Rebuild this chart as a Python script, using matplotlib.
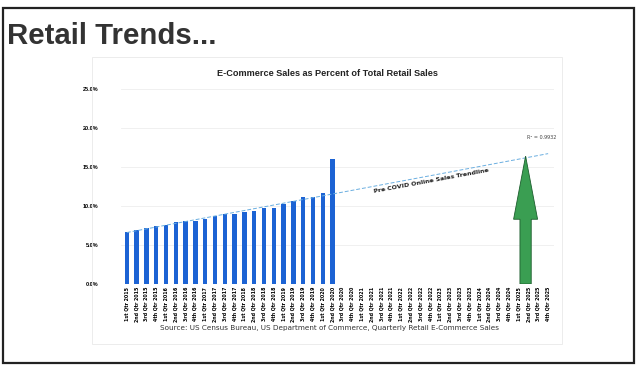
import numpy as np
import matplotlib
matplotlib.use('Agg')
import matplotlib.pyplot as plt
from matplotlib.patches import FancyArrow, Rectangle

# 분기 라벨 (2015 ~ 2025)
quarters = ['1st', '2nd', '3rd', '4th']
years = list(range(2015, 2026))
labels = [f'{q} Qtr {y}' for y in years for q in quarters]

# 이커머스 비중 (%) - 1Q2015 ~ 2Q2020
ecom_pct = [6.7, 6.9, 7.2, 7.4, 7.6, 7.9, 8.1, 8.1, 8.3, 8.7, 9.0, 9.0,
            9.2, 9.4, 9.7, 9.8, 10.3, 10.7, 11.1, 11.2, 11.7, 16.0]
pre_covid_n = 21
yticks = [0, 5, 10, 15, 20, 25]

fig = plt.figure(figsize=(6.37, 3.67), dpi=100)
fig.patch.set_facecolor('white')

# 슬라이드 테두리
fig.add_artist(Rectangle((3/637, 1-363/367), 631/637, 355/367, transform=fig.transFigure,
                         fill=False, ec='#222222', lw=1.6))
# 차트 영역 테두리
fig.add_artist(Rectangle((92/637, 1-344/367), 470/637, 287/367, transform=fig.transFigure,
                         fill=False, ec='#ececec', lw=0.7))

fig.text(7/637, 1-36/367, 'Retail Trends...', fontsize=21.2, fontweight='bold',
         color='#333333', family='Liberation Sans', va='center', ha='left')
fig.text(327/637, 1-73/367, 'E-Commerce Sales as Percent of Total Retail Sales',
         fontsize=6.6, fontweight='bold', color='#222222',
         family='Liberation Sans', ha='center', va='center')
fig.text(329/637, 1-328/367,
         'Source: US Census Bureau, US Department of Commerce, Quarterly Retail E-Commerce Sales',
         fontsize=5.2, color='#333333', family='DejaVu Sans',
         ha='center', va='center')

ax = fig.add_axes([121/637, 1-284/367, 433/637, 195/367])
x = np.arange(len(labels))
ax.bar(x[:len(ecom_pct)], ecom_pct, width=0.45, color='#1c63d4', zorder=3)

# 코로나 이전 추세선
coef = np.polyfit(x[:pre_covid_n], ecom_pct[:pre_covid_n], 1)
ax.plot(x, np.polyval(coef, x), ls=(0, (4, 2)), color='#6aaee0', lw=0.7, zorder=4)
ax.text(31.1, 13.2, 'Pre COVID Online Sales Trendline', rotation=10.5, fontsize=4.5,
        fontweight='bold', color='#222222', family='DejaVu Sans',
        ha='center', va='center')
ax.text(42.3, 18.8, 'R² = 0.9932', fontsize=3.5, color='#444444', ha='center', va='center')

# 초록 화살표
ax.add_patch(FancyArrow(40.7, 0, 0, 16.4, width=1.15, head_width=2.45, head_length=8.1,
                        length_includes_head=True, fc='#3a9e52', ec='#1d5e2e', lw=0.6, zorder=5))

ax.set_xlim(-0.6, 43.6)
ax.set_ylim(0, 25)
ax.set_yticks(yticks)
ax.set_yticklabels([f'{v:.1f}%' for v in yticks], fontsize=4, fontweight='bold',
                   family='Liberation Sans')
ax.set_xticks(x)
ax.set_xticklabels(labels, rotation=90, fontsize=3.4, fontweight='bold')
ax.tick_params(axis='both', length=0)
ax.tick_params(axis='y', pad=16)
ax.tick_params(axis='x', pad=2)
ax.grid(axis='y', color='#eeeeee', lw=0.6, zorder=0)
for s in ax.spines.values():
    s.set_visible(False)

fig.savefig('out.png', dpi=100)
